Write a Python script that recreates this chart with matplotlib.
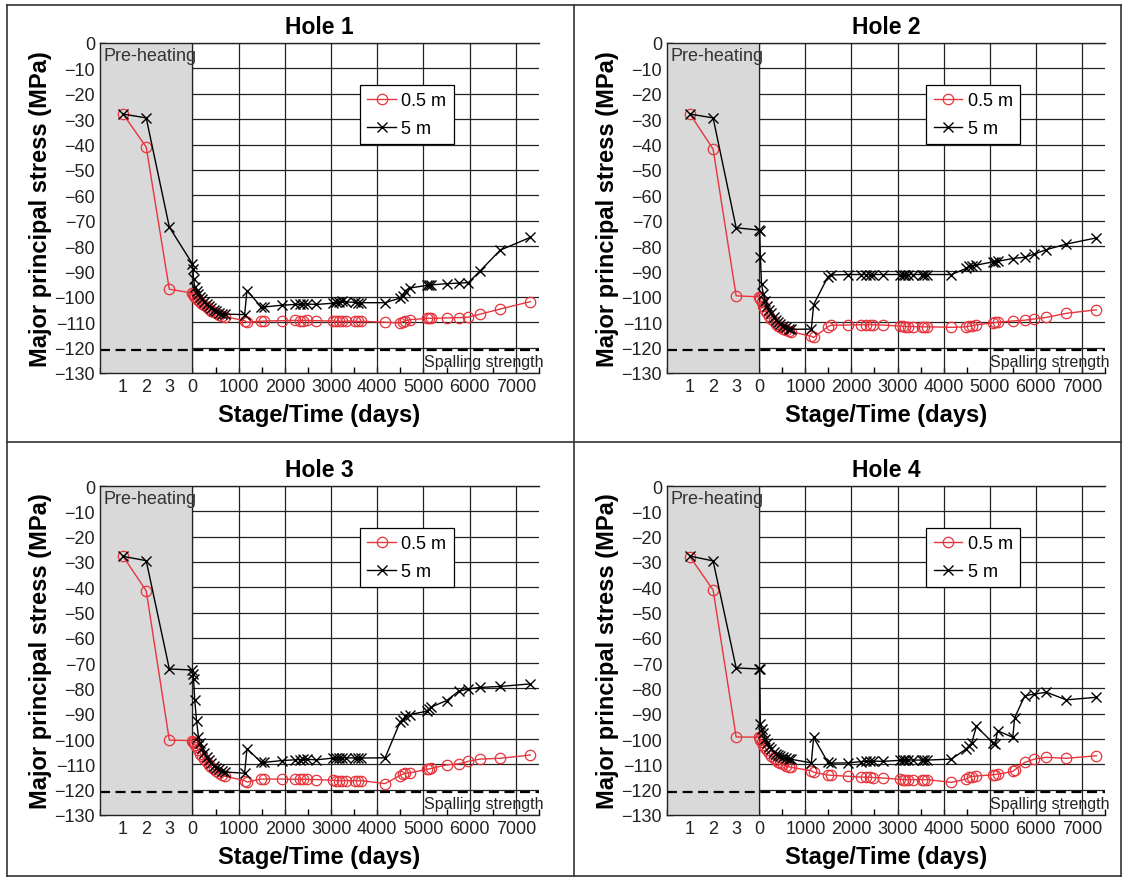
import matplotlib
matplotlib.use('Agg')
import matplotlib.pyplot as plt
from matplotlib.lines import Line2D
from matplotlib.ticker import MultipleLocator

plt.rcParams['font.family'] = ['Liberation Sans', 'DejaVu Sans']

# pre-heating stages (drawn at -1500, -1000, -500 on the day axis)
stage_labels = ['1', '2', '3']
stage_pos = [-1500, -1000, -500]

# measurement days after heating starts
days = [0, 10, 25, 50, 90, 130, 170, 210, 260, 310, 360, 410, 460, 520, 580, 640, 700,
        1130, 1180, 1490, 1550, 1930, 2210, 2320, 2400, 2470, 2680,
        3050, 3110, 3170, 3230, 3330, 3520, 3580, 3640,
        4170, 4490, 4550, 4610, 4710, 5070, 5120, 5170,
        5500, 5760, 5970, 6230, 6660, 7310]

days4 = [0, 10, 25, 50, 90, 130, 170, 210, 260, 310, 360, 410, 460, 520, 580, 640, 700,
         1130, 1180, 1490, 1550, 1930, 2210, 2320, 2400, 2470, 2680,
         3050, 3110, 3170, 3230, 3330, 3520, 3580, 3640,
         4170, 4490, 4550, 4610, 4710, 5070, 5120, 5170,
         5500, 5540, 5760, 5970, 6230, 6660, 7310]

# Hole 1
h1_stage_05 = [-28, -41, -97]
h1_stage_5 = [-28, -29.5, -72.5]
h1_05 = [-98.5, -99, -99.5, -100, -100.7, -101.4, -102, -102.7, -103.4, -104.1, -104.8, -105.4, -106, -106.5, -107, -107.4, -107.8,
         -109.4, -110, -109.6, -109.5, -109.4, -109.3, -109.4, -109.4, -109.3, -109.4,
         -109.5, -109.6, -109.7, -109.6, -109.6, -109.6, -109.7, -109.6,
         -110, -110.3, -109.8, -109.4, -109, -108.5, -108.4, -108.5,
         -108.3, -108.2, -108, -106.8, -104.8, -101.9]
h1_5 = [-87, -89, -93, -96, -97.5, -99, -100, -101, -102, -103, -103.8, -104.5, -105, -105.7, -106.2, -106.6, -106.8,
        -107, -97.5, -104, -104, -103.3, -103, -103, -102.8, -102.8, -103,
        -102.5, -102.2, -102, -101.8, -102, -102.2, -102.3, -102.3,
        -102.3, -100.5, -99.8, -97.5, -96.5, -95.5, -95.3, -95.3,
        -94.8, -94.6, -94.4, -89.7, -81.6, -76.6]

# Hole 2
h2_stage_05 = [-28, -41.8, -99.6]
h2_stage_5 = [-28, -29.5, -72.8]
h2_05 = [-100, -100.3, -101, -102, -103.5, -105, -106.3, -107.5, -108.6, -109.6, -110.5, -111.3, -112, -112.6, -113.1, -113.5, -113.8,
         -115.5, -116, -111.8, -111.2, -111.1, -111, -111, -111, -111, -111.1,
         -111.5, -111.6, -111.7, -111.7, -111.7, -111.8, -111.8, -111.8,
         -112, -111.8, -111.6, -111.4, -111, -110.3, -110.1, -110,
         -109.5, -109.2, -108.7, -108.1, -106.5, -105.1]
h2_5 = [-73.7, -74, -84.2, -95, -99, -101.5, -103.5, -105, -106.5, -108, -109, -110, -110.8, -111.5, -112, -112.5, -112.8,
        -112.7, -103.1, -92.1, -91.4, -91.2, -91.2, -91.2, -91.2, -91.2, -91.2,
        -91.2, -91.2, -91.2, -91.2, -91.2, -91.2, -91.2, -91.2,
        -91.2, -88.8, -87.9, -87.7, -87.5, -86.2, -86.1, -86,
        -84.9, -84.4, -83.1, -81.4, -79.2, -76.8]

# Hole 3
h3_stage_05 = [-27.8, -41.4, -100.4]
h3_stage_5 = [-27.8, -29.5, -72.3]
h3_05 = [-100.6, -101, -101.5, -102.2, -103.3, -104.5, -105.7, -106.8, -108, -109.2, -110.2, -111.2, -112, -112.8, -113.5, -114.2, -114.7,
         -116.4, -117, -115.8, -115.8, -115.8, -115.9, -115.9, -115.9, -115.9, -116,
         -116.3, -116.4, -116.4, -116.5, -116.4, -116.4, -116.5, -116.4,
         -117.6, -114.4, -113.9, -113.6, -113.3, -112, -111.8, -111.6,
         -110.2, -109.8, -108.8, -107.9, -107.6, -106.3]
h3_5 = [-72.7, -74.3, -76.3, -84.5, -93, -99, -101.5, -103.5, -105.5, -107, -108.3, -109.5, -110.5, -111.3, -112, -112.5, -113,
        -113.5, -103.8, -109.2, -109.2, -108.5, -108.2, -108.1, -108, -108, -108.2,
        -107.5, -107.4, -107.3, -107.3, -107.4, -107.5, -107.5, -107.5,
        -107.4, -93.4, -92.5, -91, -90.3, -89, -88, -87.3,
        -84.8, -81.1, -80.2, -79.6, -79.2, -78.2]

# Hole 4 (uses days4)
h4_stage_05 = [-28, -41.1, -99.2]
h4_stage_5 = [-27.7, -29.6, -71.9]
h4_05 = [-99.2, -99.5, -100.2, -101, -102.2, -103.4, -104.5, -105.5, -106.5, -107.4, -108.2, -108.9, -109.5, -110, -110.5, -110.9, -111.2,
         -112.5, -113.1, -114.2, -114.3, -114.7, -115, -115.1, -115.1, -115.2, -115.4,
         -115.9, -116, -116, -116.1, -116, -116, -116.1, -116,
         -117.1, -115.8, -115, -114.8, -114.6, -114.1, -114, -113.9,
         -112.8, -112.2, -109.2, -107.9, -107.2, -107.6, -106.6]
h4_5 = [-72.3, -72.5, -94, -96, -97.5, -100, -101.5, -103, -104, -105, -105.7, -106.3, -106.8, -107.2, -107.5, -107.8, -108,
        -109.4, -99.3, -109.2, -109.5, -109.4, -108.9, -108.8, -108.8, -108.7, -108.8,
        -108.4, -108.3, -108.3, -108.2, -108.3, -108.3, -108.4, -108.3,
        -107.9, -103.9, -102.6, -101.5, -95, -101.5, -101.8, -96.7,
        -99.3, -91.6, -82.9, -82.2, -81.5, -84.5, -83.5]

spalling = -121
time_ticks = [0, 1000, 2000, 3000, 4000, 5000, 6000, 7000]

holes = [
    ('Hole 1', days, h1_stage_05, h1_05, h1_stage_5, h1_5),
    ('Hole 2', days, h2_stage_05, h2_05, h2_stage_5, h2_5),
    ('Hole 3', days, h3_stage_05, h3_05, h3_stage_5, h3_5),
    ('Hole 4', days4, h4_stage_05, h4_05, h4_stage_5, h4_5),
]

W, H = 1123, 879
fig = plt.figure(figsize=(W / 100, H / 100), dpi=100)

# axes boxes in pixels: left, top, right, bottom
boxes = [(100, 44, 539, 374), (667, 44, 1105, 374),
         (100, 487, 539, 816), (667, 487, 1105, 816)]

red = '#e8343c'

for (title, d, st05, v05, st5, v5), (l, t, r, b) in zip(holes, boxes):
    ax = fig.add_axes([l / W, 1 - b / H, (r - l) / W, (b - t) / H])
    ax.set_axisbelow(True)
    ax.axvspan(-2000, 0, color='#d9d9d9', zorder=1, lw=0)
    ax.axvline(0, color='#222222', lw=0.9, zorder=1.5)

    ax.plot(stage_pos + d, st05 + v05, color=red, marker='o', mfc='none',
            mec=red, ms=7.5, mew=0.9, lw=1, zorder=3, label='0.5 m')
    ax.plot(stage_pos + d, st5 + v5, color='black', marker='x',
            ms=7, mew=1, lw=1, zorder=4, label='5 m')

    ax.axhline(spalling, color='black', lw=1.6, dashes=(4.5, 2.5), zorder=2.5)
    ax.text(7590, spalling - 1.5, 'Spalling strength', ha='right', va='top',
            fontsize=11.5, color='#222222', clip_on=False)
    ax.text(-1920, -1.5, 'Pre-heating', ha='left', va='top', fontsize=13,
            color='#333333', zorder=5)

    ax.set_xlim(-2000, 7500)
    ax.set_ylim(-130, 0)
    ax.set_xticks(stage_pos + time_ticks)
    ax.set_xticklabels(stage_labels + [str(v) for v in time_ticks])
    ax.xaxis.set_minor_locator(MultipleLocator(500))
    ax.set_yticks(range(-130, 1, 10))
    ax.tick_params(direction='in', labelsize=13, length=4, width=1, colors='#222222')
    ax.tick_params(which='minor', direction='in', length=4, width=1)
    ax.grid(True, color='#222222', lw=0.9)

    ax.spines['right'].set_visible(False)
    for s in ['left', 'bottom', 'top']:
        ax.spines[s].set_linewidth(1)
        ax.spines[s].set_color('#222222')

    ax.set_title(title, fontsize=16.5, fontweight='bold', pad=7)
    ax.set_xlabel('Stage/Time (days)', fontsize=17, fontweight='bold', labelpad=6)
    ax.set_ylabel('Major principal stress (MPa)', fontsize=17, fontweight='bold', labelpad=2)

    leg = ax.legend(loc='upper left', bbox_to_anchor=(0.592, 0.873), borderaxespad=0,
                    fontsize=13, fancybox=False, framealpha=1, edgecolor='black',
                    handlelength=1.6, handletextpad=0.3, borderpad=0.4, labelspacing=0.6)
    leg.get_frame().set_linewidth(0.9)

# panel border lines
def px_line(x0, y0, x1, y1):
    fig.add_artist(Line2D([x0 / W, x1 / W], [1 - y0 / H, 1 - y1 / H],
                          color='#333333', lw=1.2, transform=fig.transFigure))

px_line(7, 6, 1121, 6)
px_line(7, 877, 1121, 877)
px_line(7, 6, 7, 877)
px_line(1121, 6, 1121, 877)
px_line(574, 6, 574, 877)
px_line(7, 443, 1121, 443)

fig.savefig('out.png', dpi=100)
